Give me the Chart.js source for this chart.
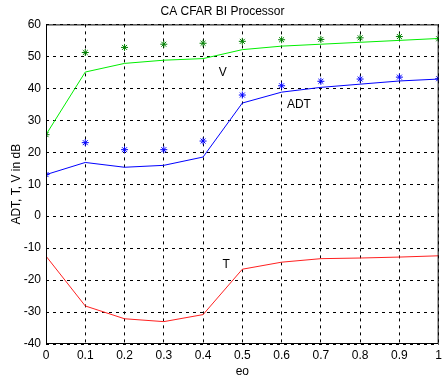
<!DOCTYPE html>
<html>
<head>
<meta charset="utf-8">
<title>CA CFAR BI Processor</title>
<script src="https://cdn.jsdelivr.net/npm/chart.js@4/dist/chart.umd.min.js"></script>
<style>
  html, body { margin: 0; padding: 0; background: #fff; }
  #wrap { width: 446px; height: 379px; }
</style>
</head>
<body>
<div id="wrap"><canvas id="myChart" width="446" height="379"></canvas></div>
<script>
// values
const eo = [0, 0.1, 0.2, 0.3, 0.4, 0.5, 0.6, 0.7, 0.8, 0.9, 1];
const vLine = [25.5, 45.1, 47.8, 48.8, 49.3, 52.1, 53.2, 53.8, 54.4, 55.0, 55.6];
const vStars = [25.5, 51.2, 52.8, 53.8, 54.1, 54.7, 55.2, 55.3, 55.8, 56.2, 55.5];
const adtLine = [13.0, 16.8, 15.3, 15.9, 18.5, 35.4, 38.8, 40.3, 41.3, 42.3, 42.9];
const adtStars = [13.0, 23.0, 20.8, 20.8, 23.5, 37.9, 40.8, 42.2, 42.9, 43.5, 43.0];
const tLine = [-12.5, -28.1, -32.1, -33.0, -30.8, -16.6, -14.4, -13.3, -13.1, -12.8, -12.4];

// text labels inside the plot (data coords)
const noteText = ['V', 'ADT', 'T'];
const noteX = [0.45, 0.644, 0.459];
const noteY = [44.8, 35, -15.3];

const xTicks = [0, 0.1, 0.2, 0.3, 0.4, 0.5, 0.6, 0.7, 0.8, 0.9, 1];
const yTicks = [-40, -30, -20, -10, 0, 10, 20, 30, 40, 50, 60];

function pts(ys) {
	return eo.map(function (x, i) { return {x: x, y: ys[i]}; });
}

const FONT = "'Liberation Sans', Arial, sans-serif";

// frame round the plot + the V / ADT / T notes
const framePlugin = {
	id: 'frame',
	afterDatasetsDraw(chart) {
		const c = chart.ctx, a = chart.chartArea;
		const xs = chart.scales.x, ys = chart.scales.y;
		c.save();
		c.strokeStyle = '#000';
		c.lineWidth = 1;
		c.setLineDash([]);
		c.strokeRect(a.left + 0.5, a.top + 0.5, a.right - a.left - 1, a.bottom - a.top - 1);
		c.fillStyle = '#000';
		c.font = '12px ' + FONT;
		c.textAlign = 'center';
		c.textBaseline = 'middle';
		for (let i = 0; i < noteText.length; i++) {
			c.fillText(noteText[i], xs.getPixelForValue(noteX[i]), ys.getPixelForValue(noteY[i]));
		}
		c.restore();
	}
};

let ctx = document.getElementById('myChart').getContext('2d');
let myChart = new Chart(ctx, {
	type: 'scatter',
	data: {
		datasets: [
			{ data: pts(vLine), showLine: true, borderColor: '#00ee00', borderWidth: 1, pointRadius: 0 },
			{ data: pts(adtLine), showLine: true, borderColor: '#0000ff', borderWidth: 1, pointRadius: 0 },
			{ data: pts(tLine), showLine: true, borderColor: '#ff2020', borderWidth: 1, pointRadius: 0 },
			{ data: pts(vStars), showLine: false, pointStyle: 'star', pointRadius: 3.5,
				borderColor: '#008000', backgroundColor: '#008000', pointBorderWidth: 1 },
			{ data: pts(adtStars), showLine: false, pointStyle: 'star', pointRadius: 3.5,
				borderColor: '#0000ff', backgroundColor: '#0000ff', pointBorderWidth: 1 }
		]
	},
	options: {
		responsive: false,
		animation: false,
		layout: { padding: { left: 0, right: 1, top: 0, bottom: 0 } },
		plugins: {
			legend: { display: false },
			tooltip: { enabled: false },
			title: {
				display: true,
				text: 'CA CFAR BI Processor',
				color: '#000',
				font: { family: FONT, size: 12, weight: 'normal' },
				padding: { top: 4, bottom: 6 }
			}
		},
		scales: {
			x: {
				type: 'linear',
				min: 0, max: 1,
				afterBuildTicks(scale) { scale.ticks = xTicks.map(function (v) { return {value: v}; }); },
				afterFit(scale) { scale.height = 35; },
				ticks: {
					color: '#000', padding: 4,
					font: { family: FONT, size: 12 },
					maxRotation: 0,
					callback: function (v) { return String(v); }
				},
				grid: { color: '#000', lineWidth: 1, drawTicks: false },
				border: { display: false, dash: [3, 4] },
				title: {
					display: true, text: 'eo', color: '#000',
					font: { family: FONT, size: 12 },
					padding: { top: 0, bottom: 0 }
				}
			},
			y: {
				type: 'linear',
				min: -40, max: 60,
				afterBuildTicks(scale) { scale.ticks = yTicks.map(function (v) { return {value: v}; }); },
				afterFit(scale) { scale.width = 46; },
				ticks: {
					color: '#000', padding: 5,
					font: { family: FONT, size: 12 }
				},
				grid: { color: '#000', lineWidth: 1, drawTicks: false },
				border: { display: false, dash: [3, 4] },
				title: {
					display: true, text: 'ADT, T, V in dB', color: '#000',
					font: { family: FONT, size: 12 },
					padding: { top: 9, bottom: 0 }
				}
			}
		}
	},
	plugins: [framePlugin]
});
</script>
</body>
</html>
